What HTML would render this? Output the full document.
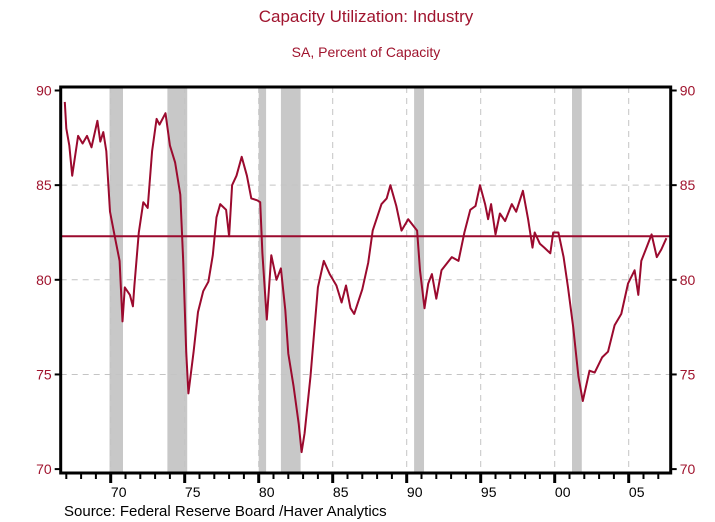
<!DOCTYPE html>
<html><head><meta charset="utf-8"><style>
body{margin:0;background:#fff;}
svg{display:block;font-family:"Liberation Sans",Arial,sans-serif;}
</style></head><body>
<svg id="chart" width="715" height="522" viewBox="0 0 715 522">
<text x="366" y="22" text-anchor="middle" font-size="17" fill="#a0142e">Capacity Utilization: Industry</text>
<text x="366" y="57" text-anchor="middle" font-size="14" fill="#a0142e">SA, Percent of Capacity</text>
<g id="rec"></g>
<g id="grid"></g>
<g id="series"></g>
<g id="axes"></g>
<text x="64" y="516" font-size="15" fill="#000">Source:  Federal Reserve Board /Haver Analytics</text>
</svg>
<script>
const years = [1966.9,1967.0,1967.2,1967.4,1967.8,1968.1,1968.4,1968.7,1969.1,1969.3,1969.5,1969.7,1969.95,1970.3,1970.6,1970.8,1970.95,1971.3,1971.5,1971.6,1971.9,1972.2,1972.5,1972.8,1973.1,1973.3,1973.7,1974.0,1974.35,1974.7,1974.9,1975.1,1975.25,1975.6,1975.9,1976.25,1976.6,1976.9,1977.15,1977.4,1977.8,1978.0,1978.2,1978.5,1978.85,1979.2,1979.5,1979.9,1980.1,1980.25,1980.55,1980.85,1981.2,1981.5,1981.8,1982.0,1982.35,1982.7,1982.9,1983.1,1983.5,1983.8,1984.0,1984.4,1984.8,1985.25,1985.6,1985.9,1986.2,1986.45,1987.0,1987.4,1987.7,1988.0,1988.3,1988.65,1988.9,1989.3,1989.65,1990.1,1990.7,1990.9,1991.2,1991.45,1991.7,1992.0,1992.35,1993.05,1993.5,1993.9,1994.3,1994.65,1994.95,1995.3,1995.5,1995.7,1996.0,1996.3,1996.65,1997.1,1997.4,1997.85,1998.2,1998.5,1998.65,1999.0,1999.3,1999.7,1999.9,2000.25,2000.6,2000.9,2001.25,2001.6,2001.9,2002.35,2002.7,2003.2,2003.6,2004.05,2004.5,2004.95,2005.4,2005.65,2005.85,2006.2,2006.55,2006.9,2007.2,2007.55];
const values = [89.4,88.0,87.1,85.5,87.6,87.2,87.6,87.0,88.4,87.3,87.8,86.8,83.6,82.2,81.0,77.8,79.6,79.2,78.6,79.7,82.5,84.1,83.8,86.8,88.5,88.2,88.8,87.1,86.2,84.5,81.0,76.2,74.0,76.2,78.3,79.4,79.9,81.3,83.3,84.0,83.7,82.3,85.0,85.5,86.5,85.5,84.3,84.2,84.1,81.4,77.9,81.3,80.0,80.6,78.4,76.1,74.4,72.4,70.9,71.9,74.9,77.7,79.6,81.0,80.3,79.7,78.8,79.7,78.5,78.2,79.5,80.9,82.6,83.3,84.0,84.3,85.0,83.9,82.6,83.2,82.6,80.5,78.5,79.8,80.3,79.0,80.5,81.2,81.0,82.5,83.7,83.9,85.0,84.0,83.2,84.0,82.4,83.5,83.1,84.0,83.6,84.7,83.2,81.7,82.5,81.9,81.7,81.4,82.5,82.5,81.2,79.6,77.5,74.9,73.6,75.2,75.1,75.9,76.2,77.6,78.2,79.8,80.5,79.2,81.0,81.7,82.4,81.2,81.6,82.2];
const averageLevel = 82.3;
const recStart = [1969.92,1973.83,1980.0,1981.5,1990.5,2001.17];
const recEnd = [1970.83,1975.17,1980.5,1982.83,1991.17,2001.83];
const yTicks = [70,75,80,85,90];
const xMajorYears = [1970,1975,1980,1985,1990,1995,2000,2005];
const xMajorLabels = ["70","75","80","85","90","95","00","05"];

const L=60.7,R=670.7,T=87,B=473;
const X=y=>110.7+(y-1970)*14.8;
const Y=v=>90.5+(90-v)*18.93;
const NS="http://www.w3.org/2000/svg";
function mk(tag,attrs,parent){const e=document.createElementNS(NS,tag);for(const k in attrs)e.setAttribute(k,attrs[k]);document.getElementById(parent).appendChild(e);return e;}

recStart.forEach((s,i)=>{
  const r=mk('rect',{x:X(s),y:T,width:X(recEnd[i])-X(s),height:B-T,fill:'#c8c8c8'},'rec');
  
  
});
yTicks.forEach(v=>{
  if(v>70&&v<90){
    const g=mk('line',{x1:L,x2:R,y1:Y(v),y2:Y(v),stroke:'#c4c4c4','stroke-dasharray':'6,5','stroke-width':1},'grid');
    
    
  }
});
xMajorYears.forEach(yr=>{
  const g=mk('line',{x1:X(yr),x2:X(yr),y1:T,y2:B,stroke:'#c4c4c4','stroke-dasharray':'6,5','stroke-width':1},'grid');
  
  
});
const avg=mk('line',{x1:L,x2:R,y1:Y(averageLevel),y2:Y(averageLevel),stroke:'#9b0a2e','stroke-width':2},'series');


const pts=years.map((y,i)=>X(y).toFixed(1)+','+Y(values[i]).toFixed(1)).join(' ');
const line=mk('polyline',{points:pts,fill:'none',stroke:'#9b0a2e','stroke-width':2,'stroke-linejoin':'round'},'series');



const frame=mk('rect',{x:L,y:T,width:R-L,height:B-T,fill:'none',stroke:'#000','stroke-width':3},'axes');


yTicks.forEach(v=>{
  mk('line',{x1:L-6,x2:L,y1:Y(v),y2:Y(v),stroke:'#000','stroke-width':2},'axes');
  mk('line',{x1:R,x2:R+6,y1:Y(v),y2:Y(v),stroke:'#000','stroke-width':2},'axes');
  const t1=mk('text',{x:L-9,y:Y(v)+5,'text-anchor':'end','font-size':14,fill:'#a0142e'},'axes');
  t1.textContent=v;
  
  
  const t2=mk('text',{x:R+9,y:Y(v)+5,'font-size':14,fill:'#a0142e'},'axes');
  t2.textContent=v;
  
  
});
for(let yr=1967;yr<=2007;yr++){
  const major=yr%5===0;
  mk('line',{x1:X(yr),x2:X(yr),y1:B,y2:B+(major?10:6),stroke:'#000','stroke-width':major?3:2},'axes');
}
xMajorYears.forEach((yr,i)=>{
  const t=mk('text',{x:X(yr)+8,y:497,'text-anchor':'middle','font-size':14,fill:'#000'},'axes');
  t.textContent=xMajorLabels[i];
  
  
});
</script>
</body></html>
